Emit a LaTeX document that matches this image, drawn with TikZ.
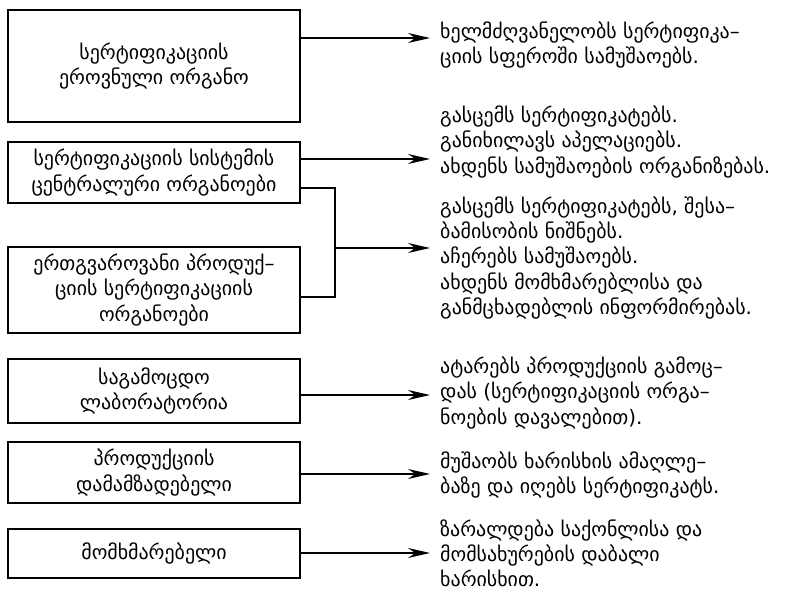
\documentclass[tikz,border=0pt]{standalone}
\usepackage{fontspec}
\setmainfont{DejaVu Sans}
\usetikzlibrary{positioning,arrows.meta}
\tikzset{>={Stealth[length=6.6mm,width=3mm,inset=2.2mm]}}

\begin{document}
\begin{tikzpicture}[x=0.03cm,y=-0.03cm]
\tikzstyle{every node}+=[font=\fontsize{17}{21.5}\selectfont]
\tikzstyle{orgbox}=[draw=black, line width=1.1pt, rectangle, align=center, minimum width=8.76cm, inner sep=0pt]
\tikzstyle{duty}=[anchor=west, align=left, inner sep=0pt]
\tikzstyle{link}=[black, line width=1.1pt]
\tikzstyle{feed}=[link, ->]
\useasboundingbox (0,0) rectangle (801,596);
% boxes
\node [orgbox, minimum height=3.36cm] (b1) at (154,66) {სერტიფიკაციის\\ეროვნული ორგანო};
\node [orgbox, minimum height=1.83cm] (b2) at (154,172.5) {სერტიფიკაციის სისტემის\\ცენტრალური ორგანოები};
\node [orgbox, minimum height=2.58cm] (b3) at (154,290) {ერთგვაროვანი პროდუქ–\\ციის სერტიფიკაციის\\ორგანოები};
\node [orgbox, minimum height=1.92cm] (b4) at (154,391) {საგამოცდო\\ლაბორატორია};
\node [orgbox, minimum height=1.83cm] (b5) at (154,472.5) {პროდუქციის\\დამამზადებელი};
\node [orgbox, minimum height=1.47cm] (b6) at (154,553.5) {მომხმარებელი};
% duties
\node [duty] (t1) at (440,45) {ხელმძღვანელობს სერტიფიკა–\\ციის სფეროში სამუშაოებს.};
\node [duty] (t2) at (440,142) {გასცემს სერტიფიკატებს.\\განიხილავს აპელაციებს.\\ახდენს სამუშაოების ორგანიზებას.};
\node [duty] (t3) at (440,258) {გასცემს სერტიფიკატებს, შესა–\\ბამისობის ნიშნებს.\\აჩერებს სამუშაოებს.\\ახდენს მომხმარებლისა და\\განმცხადებლის ინფორმირებას.};
\node [duty] (t4) at (440,393) {ატარებს პროდუქციის გამოც–\\დას (სერტიფიკაციის ორგა–\\ნოების დავალებით).};
\node [duty] (t5) at (440,475) {მუშაობს ხარისხის ამაღლე–\\ბაზე და იღებს სერტიფიკატს.};
\node [duty] (t6) at (440,553) {ზარალდება საქონლისა და\\მომსახურების დაბალი\\ხარისხით.};
% arrow ends
\coordinate (a1) at (430,38);
\coordinate (a2) at (430,159);
\coordinate (a3) at (430,248);
\coordinate (a4) at (430,395);
\coordinate (a5) at (430,474);
\coordinate (a6) at (430,553);
\coordinate (jt) at (335,188);
\coordinate (jm) at (335,248);
\coordinate (jb) at (335,297);
% connectors
\draw [feed] (b1.east |- a1) -- (a1);
\draw [feed] (b2.east |- a2) -- (a2);
\draw [link] (b2.east |- jt) -- (jt) -- (jb) -- (b3.east |- jb);
\draw [feed] (jm) -- (a3);
\draw [feed] (b4.east |- a4) -- (a4);
\draw [feed] (b5.east |- a5) -- (a5);
\draw [feed] (b6.east |- a6) -- (a6);
\end{tikzpicture}
\end{document}
